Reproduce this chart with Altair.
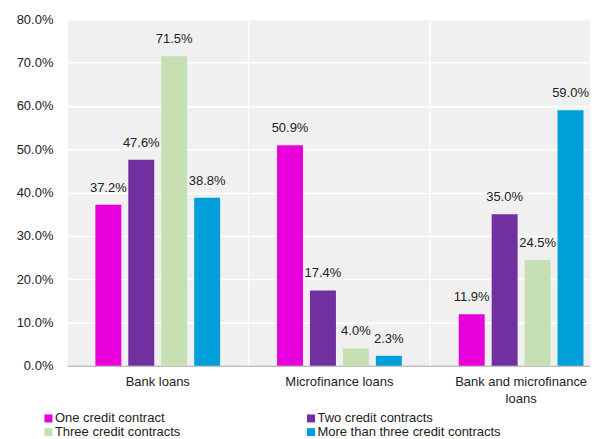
import altair as alt
import pandas as pd

categories = ["Bank loans", "Microfinance loans", "Bank and microfinance loans"]
series = ["One credit contract", "Two credit contracts",
          "Three credit contracts", "More than three credit contracts"]
one_credit = [0.372, 0.509, 0.119]
two_credit = [0.476, 0.174, 0.350]
three_credit = [0.715, 0.040, 0.245]
more_credit = [0.388, 0.023, 0.590]
colors = ["#E800DC", "#7030A0", "#C6E0B4", "#009FD9"]
y_ticks = [0.0, 0.1, 0.2, 0.3, 0.4, 0.5, 0.6, 0.7, 0.8]

rows = []
for s, vals in zip(series, [one_credit, two_credit, three_credit, more_credit]):
    for c, v in zip(categories, vals):
        rows.append({"category": c, "series": s, "value": v})
df = pd.DataFrame(rows)
sep_df = pd.DataFrame({"category": categories})

FONT = "Liberation Sans"
TXT = "#222222"

x_axis = alt.Axis(
    title=None, ticks=False, labelAngle=0, labelFontSize=13, labelColor=TXT,
    labelPadding=10, domainColor="#BFBFBF", domainWidth=1.5, grid=False,
    labelLineHeight=17,
    labelExpr="datum.label == 'Bank and microfinance loans' ? ['Bank and microfinance', 'loans'] : datum.label",
)
x_scale = alt.Scale(paddingInner=0, paddingOuter=0)

y_enc = alt.Y(
    "value:Q",
    scale=alt.Scale(domain=[0, 0.8], nice=False),
    axis=alt.Axis(title=None, values=y_ticks, format=".1%", ticks=False, domain=False,
                  labelFontSize=13, labelColor=TXT, labelPadding=14,
                  gridColor="white", gridWidth=1.5),
)

xoff = alt.XOffset("series:N", sort=series,
                   scale=alt.Scale(paddingInner=0.212, paddingOuter=0.864))

seps = alt.Chart(sep_df).mark_rule(color="white", strokeWidth=1.5).encode(
    x=alt.X("category:N", sort=categories, bandPosition=0, scale=x_scale, axis=x_axis),
)

bars = alt.Chart(df).mark_bar().encode(
    x=alt.X("category:N", sort=categories, scale=x_scale, axis=x_axis),
    xOffset=xoff,
    y=y_enc,
    color=alt.Color(
        "series:N", sort=series,
        scale=alt.Scale(domain=series, range=colors),
        legend=alt.Legend(
            title=None, orient="none", legendX=-25, legendY=393, columns=2,
            columnPadding=124, rowPadding=0, symbolType="square", symbolSize=64,
            symbolStrokeWidth=0, labelFontSize=13, labelColor=TXT, labelOffset=0,
            labelLimit=300, direction="horizontal",
        ),
    ),
)

labels = alt.Chart(df).mark_text(fontSize=13, baseline="middle", dy=-17, color=TXT).encode(
    x=alt.X("category:N", sort=categories, scale=x_scale, axis=x_axis),
    xOffset=xoff,
    y=y_enc,
    text=alt.Text("value:Q", format=".1%"),
)

chart = (
    alt.layer(seps, bars, labels)
    .properties(width=546, height=347, padding={"left": 8, "top": 5, "right": -22, "bottom": 0})
    .configure(font=FONT)
    .configure_view(fill="#F0F0F0", stroke="transparent")
)

chart.save("out.html", embed_options={"renderer": "svg", "actions": False})
